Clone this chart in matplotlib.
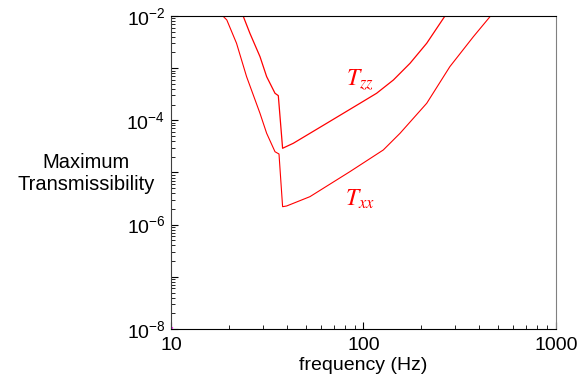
import matplotlib
matplotlib.use("Agg")
import matplotlib.pyplot as plt
from matplotlib.ticker import LogLocator, FixedLocator, NullFormatter

plt.rcParams["font.family"] = ["Liberation Sans", "DejaVu Sans"]
plt.rcParams["mathtext.default"] = "regular"

# Tzz curve (upper)
tzz_freq = [23.7, 25.7, 29.0, 31.4, 34.7, 36.1, 38.0, 43.2, 64.4, 95.9, 117, 143, 174.5, 213, 265]
tzz_vals = [1.0e-2, 4.66e-3, 1.66e-3, 6.87e-4, 3.3e-4, 2.97e-4, 2.91e-5, 3.63e-5, 8.77e-5,
            2.12e-4, 3.3e-4, 5.93e-4, 1.24e-3, 3.0e-3, 1.0e-2]

# Txx curve (lower)
txx_freq = [18.6, 19.5, 21.9, 24.7, 29.0, 31.4, 34.7, 36.4, 38.0, 39.9, 52.7, 85.1, 126.7,
            154.8, 213, 281, 372, 454]
txx_vals = [1.0e-2, 8.38e-3, 3.0e-3, 6.87e-4, 1.36e-4, 5.64e-5, 2.5e-5, 2.26e-5, 2.21e-6,
            2.28e-6, 3.44e-6, 1.04e-5, 2.7e-5, 5.64e-5, 2.12e-4, 1.07e-3, 4.0e-3, 9.7e-3]

y_major = [1e-8, 1e-7, 1e-6, 1e-5, 1e-4, 1e-3, 1e-2]
y_labels = ["$10^{-8}$", "", "$10^{-6}$", "", "$10^{-4}$", "", "$10^{-2}$"]
x_major = [10, 100, 1000]
x_labels = ["10", "100", "1000"]

fig = plt.figure(figsize=(5.79, 3.85), dpi=100)
ax = fig.add_axes([0.2953, 0.1455, 0.665, 0.813])

ax.plot(tzz_freq, tzz_vals, color="red", lw=0.9)
ax.plot(txx_freq, txx_vals, color="red", lw=0.8)
ax.plot([10, 10.1], [1e-8, 1.05e-8], color="magenta", lw=1.5)

ax.set_xscale("log")
ax.set_yscale("log")
ax.set_xlim(10, 1000)
ax.set_ylim(1e-8, 1e-2)

ax.xaxis.set_major_locator(FixedLocator(x_major))
ax.set_xticklabels(x_labels)
ax.xaxis.set_minor_locator(LogLocator(base=10, subs=range(2, 10)))
ax.xaxis.set_minor_formatter(NullFormatter())
ax.yaxis.set_major_locator(FixedLocator(y_major))
ax.set_yticklabels(y_labels)
ax.yaxis.set_minor_locator(LogLocator(base=10, subs=range(2, 10), numticks=20))
ax.yaxis.set_minor_formatter(NullFormatter())

ax.tick_params(axis="both", which="major", direction="in", length=5, width=0.8,
               labelsize=14, top=False, right=False)
ax.tick_params(axis="both", which="minor", direction="in", length=3, width=0.6,
               top=False, right=False)
ax.tick_params(axis="x", pad=6)
ax.tick_params(axis="y", pad=4)

ax.spines["right"].set_color("#808080")
ax.spines["left"].set_color("#404040")
for side in ["top", "bottom"]:
    ax.spines[side].set_color("black")

ax.set_xlabel("frequency (Hz)", fontsize=14, labelpad=2)
fig.text(0.149, 0.55, "Maximum\nTransmissibility", fontsize=14.5, ha="center", va="center",
         linespacing=1.2)

ax.text(96, 5.9e-4, r"$\mathit{T_{zz}}$", color="red", fontsize=17, ha="center", va="center",
        math_fontfamily="stix")
ax.text(96, 3.0e-6, r"$\mathit{T_{xx}}$", color="red", fontsize=17, ha="center", va="center",
        math_fontfamily="stix")

fig.savefig("out.png", dpi=100)
